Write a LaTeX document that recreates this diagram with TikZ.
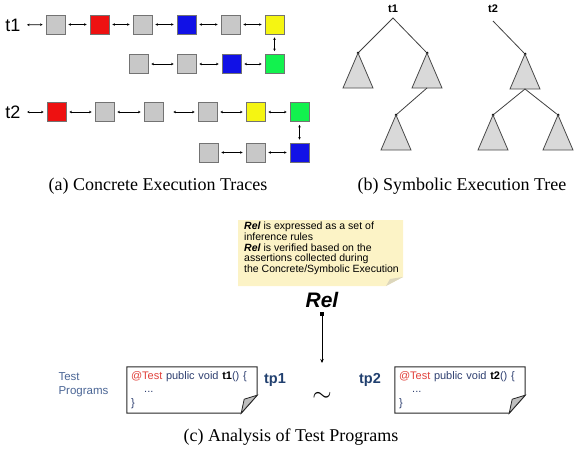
\documentclass[tikz,border=0pt]{standalone}
\usepackage{fontspec}
\setmainfont{Liberation Serif}
\setsansfont{Liberation Sans}
\usetikzlibrary{arrows.meta,calc}

\definecolor{boxgray}{HTML}{C8C8C8}
\definecolor{tred}{HTML}{EE1111}
\definecolor{tblue}{HTML}{1111E6}
\definecolor{tyellow}{HTML}{F5F512}
\definecolor{tgreen}{HTML}{12F24E}
\definecolor{trigray}{HTML}{D9D9D9}
\definecolor{notefill}{HTML}{FCF3C6}
\definecolor{notefold}{HTML}{DCD6BC}
\definecolor{testred}{HTML}{E0403A}
\definecolor{codeblue}{HTML}{2E3F70}
\definecolor{tpblue}{HTML}{21406F}
\definecolor{progblue}{HTML}{4A6595}

\tikzset{
  tbox/.style={draw=black!55, line width=0.8pt, minimum size=19pt, inner sep=0pt},
  gbox/.style={tbox, fill=boxgray},
  rbox/.style={tbox, fill=tred},
  bbox/.style={tbox, fill=tblue},
  ybox/.style={tbox, fill=tyellow},
  grbox/.style={tbox, fill=tgreen},
  link/.style={line width=0.7pt, {Stealth[length=2.5pt,width=2.5pt]}-{Stealth[length=2.5pt,width=2.5pt]},
    shorten <=3pt, shorten >=3pt},
  dot/.style={circle, fill=black, inner sep=0pt, minimum size=3pt},
  branch/.style={line width=0.8pt, black!75},
  tri/.style={draw=black!70, line width=0.8pt, fill=trigray},
  subtree/.pic={\draw[tri] (0,0) -- (15,35) -- (-15,35) -- cycle;},
  caption/.style={font=\fontsize{18}{20}\selectfont},
  codebox/.style={minimum width=130pt, minimum height=46pt, text width=122pt, inner xsep=4pt,
    align=left, font=\sffamily\fontsize{11}{13.5}\selectfont, text=codeblue},
  codeline/.style={line width=1pt, black!85},
  flap/.style={draw=black!85, line width=0.8pt, fill=black!25}
}

\begin{document}
\begin{tikzpicture}[x=1pt, y=-1pt]
  \useasboundingbox (0,0) rectangle (574,455);

  % (a) concrete traces
  \node[font=\sffamily\fontsize{18}{18}\selectfont] (t1) at (13,25) {t1};
  \node[gbox]  (a1) at (55.5,24.5) {};
  \node[rbox]  (a2) at (99.5,24.5) {};
  \node[gbox]  (a3) at (142.5,24.5) {};
  \node[bbox]  (a4) at (186.5,24.5) {};
  \node[gbox]  (a5) at (230.5,24.5) {};
  \node[ybox]  (a6) at (274.5,24.5) {};
  \node[grbox] (a7) at (274.5,64) {};
  \node[bbox]  (a8) at (231.5,64) {};
  \node[gbox]  (a9) at (186.5,64) {};
  \node[gbox]  (a10) at (138.5,64) {};

  \draw[link] (t1) -- (a1);
  \draw[link] (a1) -- (a2);
  \draw[link] (a2) -- (a3);
  \draw[link] (a3) -- (a4);
  \draw[link] (a4) -- (a5);
  \draw[link] (a5) -- (a6);
  \draw[link] (a6) -- (a7);
  \draw[link] (a7) -- (a8);
  \draw[link] (a8) -- (a9);
  \draw[link] (a9) -- (a10);

  \node[font=\sffamily\fontsize{18}{18}\selectfont] (t2) at (13,112) {t2};
  \node[rbox]  (b1) at (56.5,112) {};
  \node[gbox]  (b2) at (104.5,112) {};
  \node[gbox]  (b3) at (153.5,112) {};
  \node[gbox]  (b4) at (207.5,112) {};
  \node[ybox]  (b5) at (255.5,112) {};
  \node[grbox] (b6) at (299.5,112) {};
  \node[bbox]  (b7) at (299.5,152.5) {};
  \node[gbox]  (b8) at (255.5,152.5) {};
  \node[gbox]  (b9) at (208.5,152.5) {};

  \draw[link] (t2) -- (b1);
  \draw[link] (b1) -- (b2);
  \draw[link] (b2) -- (b3);
  \draw[link, shorten <=10pt] (b3) -- (b4);
  \draw[link] (b4) -- (b5);
  \draw[link] (b5) -- (b6);
  \draw[link] (b6) -- (b7);
  \draw[link] (b7) -- (b8);
  \draw[link] (b8) -- (b9);

  \node[caption] (capa) at (158,186) {(a) Concrete Execution Traces};

  % (b) symbolic trees
  \node[font=\sffamily\bfseries\fontsize{11}{11}\selectfont] (s1) at (393,9) {t1};
  \coordinate (r1) at (393,18);
  \node[dot] (n1) at (358,53) {};
  \node[dot] (n2) at (427,53) {};
  \node[dot] (n3) at (396,115) {};
  \coordinate (m2) at (427,88);
  \draw[branch] (n1) -- (r1) -- (n2);
  \pic at (n1) {subtree};
  \pic at (n2) {subtree};
  \draw[branch] (m2) -- (n3);
  \pic at (n3) {subtree};

  \node[font=\sffamily\bfseries\fontsize{11}{11}\selectfont] (s2) at (493,9) {t2};
  \coordinate (r2) at (493,21);
  \node[dot] (q1) at (525,54) {};
  \node[dot] (q2) at (493,115) {};
  \node[dot] (q3) at (558,115) {};
  \coordinate (m1) at (525,89);
  \draw[branch] (r2) -- (q1);
  \pic at (q1) {subtree};
  \draw[branch] (q2) -- (m1) -- (q3);
  \pic at (q2) {subtree};
  \pic at (q3) {subtree};

  \node[caption] (capb) at (462,186) {(b) Symbolic Execution Tree};

  % (c) relation between test programs
  \fill[notefill] (238,220) -- (403,220) -- (403,277) -- (386,286) -- (238,286) -- cycle;
  \fill[notefold] (403,277) -- (386,286) -- (390,279) -- cycle;
  \node[anchor=north west, inner sep=0pt, align=left,
    font=\sffamily\fontsize{10.5}{10.7}\selectfont] (note) at (244,222)
    {\textbf{\textit{Rel}} is expressed as a set of\\
     inference rules\\
     \textbf{\textit{Rel}} is verified based on the\\
     assertions collected during\\
     the Concrete/Symbolic Execution};

  \node[font=\sffamily\bfseries\itshape\fontsize{21}{21}\selectfont] (rel) at (322,300) {Rel};
  \node[fill=black, minimum size=4pt, inner sep=0pt] (relsq) at (322,314) {};
  \coordinate (relend) at (322,363);
  \draw[line width=0.6pt, -{Stealth[length=4pt,width=3.5pt]}] (relsq) -- (relend);
  \node[font=\fontsize{24}{24}\selectfont] (sim) at (322,397) {$\sim$};

  \node[anchor=west, align=left, text=progblue,
    font=\sffamily\fontsize{11.5}{14}\selectfont] (progs) at (55,385) {Test\\Programs};

  \node[codebox] (code1) at (192,390)
    {\textcolor{testred}{@Test} public void \textbf{\textcolor{black}{t1}}() \{\\
     \hspace{1.2em}...\\
     \}};
  \draw[codeline] (code1.north west) -- (code1.north east) -- ($(code1.south east)+(0,-18)$)
    -- ($(code1.south east)+(-16,0)$) -- (code1.south west) -- cycle;
  \filldraw[flap] ($(code1.south east)+(0,-18)$) -- ($(code1.south east)+(-16,0)$)
    -- ($(code1.south east)+(-13,-14)$) -- cycle;

  \node[codebox] (code2) at (460,390)
    {\textcolor{testred}{@Test} public void \textbf{\textcolor{black}{t2}}() \{\\
     \hspace{1.2em}...\\
     \}};
  \draw[codeline] (code2.north west) -- (code2.north east) -- ($(code2.south east)+(0,-18)$)
    -- ($(code2.south east)+(-16,0)$) -- (code2.south west) -- cycle;
  \filldraw[flap] ($(code2.south east)+(0,-18)$) -- ($(code2.south east)+(-16,0)$)
    -- ($(code2.south east)+(-13,-14)$) -- cycle;

  \node[font=\sffamily\bfseries\fontsize{14.5}{14.5}\selectfont, text=tpblue] (tp1) at (275,380) {tp1};
  \node[font=\sffamily\bfseries\fontsize{14.5}{14.5}\selectfont, text=tpblue] (tp2) at (370,380) {tp2};

  \node[caption] (capc) at (291,437) {(c) Analysis of Test Programs};
\end{tikzpicture}
\end{document}
